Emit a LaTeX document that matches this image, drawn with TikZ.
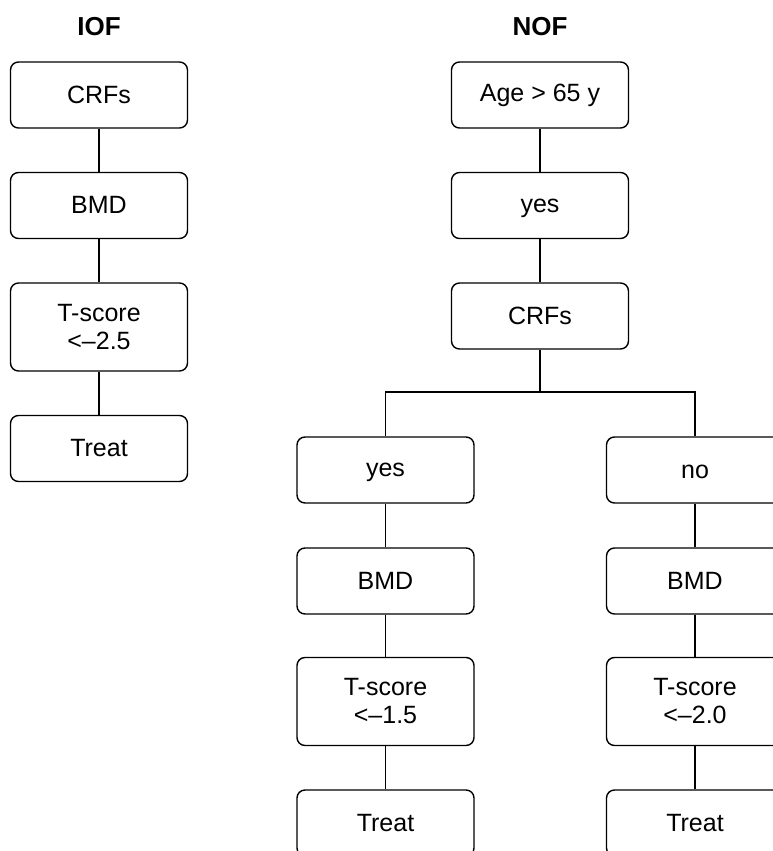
\documentclass[tikz,border=0pt]{standalone}
\usepackage{fontspec}
\setmainfont{Liberation Sans}
\usepackage{tikz}

% one text line: baseline 8pt below the middle of the line box
\newcommand{\tline}[1]{\rule[-3pt]{0pt}{22pt}#1}

\tikzset{
    box/.style={draw, line width=1.4pt, rounded corners=8pt, align=center,
        minimum width=177pt, minimum height=66pt, inner sep=0pt,
        font=\fontsize{25}{28}\selectfont},
    tallbox/.style={box, minimum height=88pt},
    title/.style={font=\fontsize{26}{30}\selectfont\bfseries},
    link/.style={line width=1.4pt}
}

\begin{document}
\begin{tikzpicture}[x=1pt, y=-1pt]

    \useasboundingbox (0,0) rectangle (773,851);
    \clip (0,0) rectangle (773,851);

    % IOF
    \begin{scope}
        \node[title] (iof) at (99,27) {IOF};
        \node[box] (crfsI) at (99,95) {\tline{CRFs}};
        \node[box] (bmdI) at (99,205.5) {\tline{BMD}};
        \node[tallbox] (tscoreI) at (99,327) {\tline{T-score}\\\tline{<--2.5}};
        \node[box] (treatI) at (99,448.5) {\tline{Treat}};

        \draw[link] (crfsI) -- (bmdI);
        \draw[link] (bmdI) -- (tscoreI);
        \draw[link] (tscoreI) -- (treatI);
    \end{scope}

    % NOF
    \begin{scope}
        \node[title] (nof) at (540,27) {NOF};
        \node[box] (age) at (540,95) {\tline{Age > 65 y}};
        \node[box] (yesN) at (540,205.5) {\tline{yes}};
        \node[box] (crfsN) at (540,316) {\tline{CRFs}};
        \coordinate (split) at (540,392);

        \draw[link] (age) -- (yesN);
        \draw[link] (yesN) -- (crfsN);
        \draw[link] (crfsN) -- (split);

        % risk factors: yes
        \node[box] (yesR) at (385.5,470) {\tline{yes}};
        \node[box] (bmdY) at (385.5,581) {\tline{BMD}};
        \node[tallbox] (tscoreY) at (385.5,701.5) {\tline{T-score}\\\tline{<--1.5}};
        \node[box] (treatY) at (385.5,823) {\tline{Treat}};

        % risk factors: no
        \node[box] (noR) at (695,470) {\tline{no}};
        \node[box] (bmdN) at (695,581) {\tline{BMD}};
        \node[tallbox] (tscoreN) at (695,701.5) {\tline{T-score}\\\tline{<--2.0}};
        \node[box] (treatN) at (695,823) {\tline{Treat}};

        \draw[link] (yesR.north) |- (split) -| (noR.north);
        \draw[link] (yesR) -- (bmdY);
        \draw[link] (bmdY) -- (tscoreY);
        \draw[link] (tscoreY) -- (treatY);
        \draw[link] (noR) -- (bmdN);
        \draw[link] (bmdN) -- (tscoreN);
        \draw[link] (tscoreN) -- (treatN);
    \end{scope}

\end{tikzpicture}
\end{document}
